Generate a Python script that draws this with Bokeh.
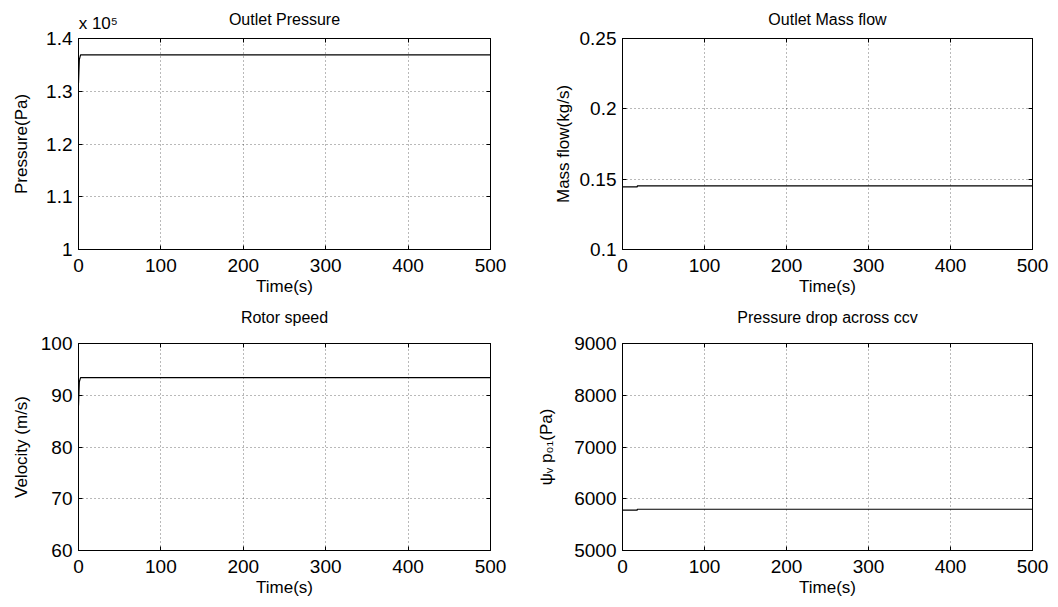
from bokeh.plotting import figure
from bokeh.layouts import column, row
from bokeh.models import Range1d, FixedTicker, CustomJSTickFormatter, LinearAxis
from bokeh.embed import file_html
from bokeh.resources import INLINE

# ---- data ----
time_p = [0, 1.0, 2.5, 500]
outlet_pressure = [131500, 136000, 136900, 136900]

time_m = [0, 18, 18, 500]
mass_flow = [0.1445, 0.1445, 0.1452, 0.1452]

time_v = [0, 1.0, 2.5, 500]
rotor_speed = [88.0, 92.6, 93.4, 93.4]

time_d = [0, 18, 18, 500]
pressure_drop = [5780, 5780, 5797, 5797]

x_ticks = [0, 100, 200, 300, 400, 500]
p_ticks = [100000, 110000, 120000, 130000, 140000]
m_ticks = [0.1, 0.15, 0.2, 0.25]
v_ticks = [60, 70, 80, 90, 100]
d_ticks = [5000, 6000, 7000, 8000, 9000]

titles = ["Outlet Pressure", "Outlet Mass flow", "Rotor speed", "Pressure drop across ccv"]
y_labels = ["Pressure(Pa)", "Mass flow(kg/s)", "Velocity (m/s)", "ψᵥ p₀₁(Pa)"]
x_label = "Time(s)"
exponent_text = "x 10\u2075"

FONT = "Liberation Sans"
TICK_FS = "19px"
LABEL_FS = "17px"
TITLE_FS = "16px"


def make(title, ylabel, yr, yticks, t, y, w, h, bl, br, bt, bb, yfmt, label_standoff,
         title_standoff, exponent=None, exp_standoff=8):
    p = figure(width=w, height=h, x_range=Range1d(0, 500), y_range=Range1d(*yr),
               output_backend="svg", toolbar_location=None,
               min_border_left=bl, min_border_right=br, min_border_top=bt, min_border_bottom=bb)
    p.outline_line_color = "black"
    p.outline_line_width = 1
    p.background_fill_color = "white"
    p.border_fill_color = "white"

    p.xaxis.ticker = FixedTicker(ticks=x_ticks)
    p.yaxis.ticker = FixedTicker(ticks=yticks)
    p.yaxis.formatter = CustomJSTickFormatter(code=yfmt)
    p.xaxis.axis_label = x_label
    p.yaxis.axis_label = ylabel
    for ax in (p.xaxis[0], p.yaxis[0]):
        ax.major_label_text_font = FONT
        ax.major_label_text_font_size = TICK_FS
        ax.major_label_text_color = "black"
        ax.axis_label_text_font = FONT
        ax.axis_label_text_font_size = LABEL_FS
        ax.axis_label_text_font_style = "normal"
        ax.axis_label_text_color = "black"
        ax.major_tick_in = 4
        ax.major_tick_out = 0
        ax.minor_tick_line_color = None
        ax.axis_line_color = "black"
        ax.major_tick_line_color = "black"
    p.xaxis.major_label_standoff = 9
    p.yaxis.major_label_standoff = 6
    p.xaxis.axis_label_standoff = 2
    p.yaxis.axis_label_standoff = label_standoff

    # mirror ticks on top and right (no labels)
    for side, tk in (("above", x_ticks), ("right", yticks)):
        ax = LinearAxis(ticker=FixedTicker(ticks=tk), major_label_text_font_size="0px",
                        major_label_text_color=None,
                        major_tick_in=4, major_tick_out=0, minor_tick_line_color=None,
                        axis_line_color="black", major_label_standoff=0)
        p.add_layout(ax, side)

    # title (and optional exponent) drawn as an invisible top axis
    if exponent is not None:
        tax = LinearAxis(ticker=FixedTicker(ticks=[24]), major_label_overrides={24: exponent},
                         major_label_text_font=FONT, major_label_text_font_size="17px",
                         major_label_text_color="black", major_label_standoff=exp_standoff)
    else:
        tax = LinearAxis(ticker=FixedTicker(ticks=[]), major_label_text_font_size="0px",
                         major_label_text_color=None, major_label_standoff=0)
    tax.axis_line_color = None
    tax.major_tick_line_color = None
    tax.minor_tick_line_color = None
    tax.major_tick_in = 0
    tax.major_tick_out = 0
    tax.axis_label = title
    tax.axis_label_text_font = FONT
    tax.axis_label_text_font_size = TITLE_FS
    tax.axis_label_text_font_style = "normal"
    tax.axis_label_text_color = "black"
    tax.axis_label_standoff = title_standoff
    p.add_layout(tax, "above")

    p.xgrid.ticker = FixedTicker(ticks=x_ticks)
    p.ygrid.ticker = FixedTicker(ticks=yticks)
    p.grid.grid_line_color = "black"
    p.grid.grid_line_alpha = 0.55
    p.grid.grid_line_dash = "1 3"
    p.grid.grid_line_width = 1

    p.line(t, y, line_color="black", line_width=1.2)
    return p


fmt_p = "return parseFloat((tick/1e5).toFixed(3)).toString();"
fmt_g = "return parseFloat(tick.toFixed(4)).toString();"

p1 = make(titles[0], y_labels[0], (100000, 140000), p_ticks, time_p, outlet_pressure,
          521, 298, 70, 39, 36, 51, fmt_p, 12, -17, exponent=exponent_text, exp_standoff=6)
p2 = make(titles[1], y_labels[1], (0.1, 0.25), m_ticks, time_m, mass_flow,
          521, 298, 93, 18, 36, 51, fmt_g, 4, 11)
p3 = make(titles[2], y_labels[2], (60, 100), v_ticks, time_v, rotor_speed,
          521, 299, 70, 39, 43, 48, fmt_g, 7, 18)
p4 = make(titles[3], y_labels[3], (5000, 9000), d_ticks, time_d, pressure_drop,
          521, 299, 93, 18, 43, 48, fmt_g, 15, 18)

layout = column(row(p1, p2), row(p3, p4), margin=(2, 0, 0, 8))
open("out.html", "w").write(file_html(layout, INLINE))
